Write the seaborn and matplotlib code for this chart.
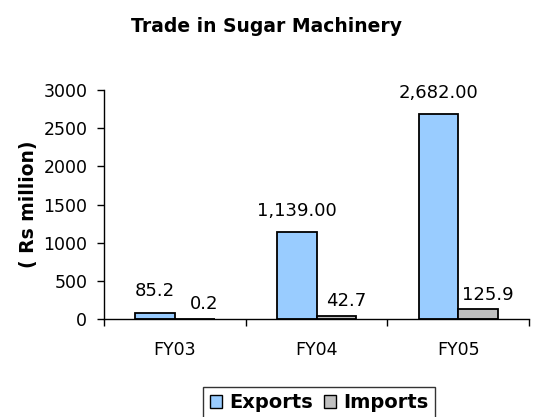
import matplotlib
matplotlib.use("Agg")
import matplotlib.pyplot as plt
import pandas as pd
import seaborn as sns

# ---------------------------------------------------------------------------
# Data
# ---------------------------------------------------------------------------
years = ["FY03", "FY04", "FY05"]
exports = [85.2, 1139.00, 2682.00]
imports = [0.2, 42.7, 125.9]
export_labels = ["85.2", "1,139.00", "2,682.00"]
import_labels = ["0.2", "42.7", "125.9"]

COLORS = {"Exports": "#99CCFF", "Imports": "#C0C0C0"}

df = pd.DataFrame({
    "year": years * 2,
    "series": ["Exports"] * len(years) + ["Imports"] * len(years),
    "value": exports + imports,
})

sns.set_style("white")
plt.rcParams["font.family"] = ["DejaVu Sans"]
for key in ["text.color", "axes.labelcolor", "xtick.color", "ytick.color"]:
    plt.rcParams[key] = "black"

fig = plt.figure(figsize=(5.33, 4.17), dpi=100)
ax = fig.add_axes([0.195, 0.235, 0.798, 0.549])

sns.barplot(data=df, x="year", y="value", hue="series", palette=COLORS,
            width=0.56, edgecolor="black", linewidth=1.3, saturation=1,
            ax=ax, legend=False)

# value labels (Excel-style: exports higher, imports nudged right)
ax.bar_label(ax.containers[0], labels=export_labels, padding=9, fontsize=13)
imp_texts = ax.bar_label(ax.containers[1], labels=import_labels, padding=4,
                         fontsize=13)
for t in imp_texts:
    x_off, y_off = t.xyann
    t.xyann = (x_off + 7, y_off)

ax.set_xlim(-0.5, 2.5)
ax.set_ylim(0, 3000)
ax.set_yticks([0, 500, 1000, 1500, 2000, 2500, 3000])
ax.tick_params(axis="y", which="major", direction="out", length=5, width=1,
               labelsize=12.5, left=True, color="black", pad=7)
ax.set_xticks([-0.5, 0.5, 1.5, 2.5], minor=True)
ax.tick_params(axis="x", which="minor", direction="out", length=5, width=1,
               bottom=True, color="black")
ax.tick_params(axis="x", which="major", length=0, labelsize=12.5, pad=16)
ax.set_xlabel("")
ax.set_ylabel("( Rs million)", fontsize=13.5, fontweight="bold", labelpad=4)

for side in ["top", "right"]:
    ax.spines[side].set_visible(False)
for side in ["left", "bottom"]:
    ax.spines[side].set_color("black")
    ax.spines[side].set_linewidth(1)

fig.suptitle("Trade in Sugar Machinery", fontsize=13.5, fontweight="bold",
             x=0.5, y=0.96)

handles = [plt.Rectangle((0, 0), 1, 1, facecolor=COLORS[s], edgecolor="black",
                         linewidth=1) for s in ["Exports", "Imports"]]
leg = fig.legend(handles, ["Exports", "Imports"], loc="upper center",
                 bbox_to_anchor=(0.599, 0.073), ncol=2, frameon=True,
                 fancybox=False, edgecolor="black", handlelength=0.6,
                 handleheight=0.6, handletextpad=0.4, columnspacing=0.55,
                 borderpad=0.35, borderaxespad=0,
                 prop={"weight": "bold", "size": 14})
leg.get_frame().set_linewidth(1)

fig.savefig("out.png", dpi=100)
